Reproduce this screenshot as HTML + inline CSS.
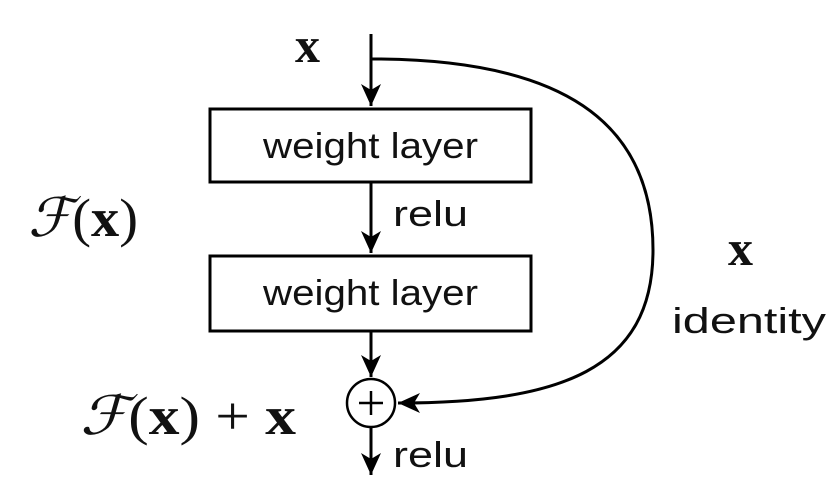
<!DOCTYPE html>
<html><head><meta charset="utf-8"><style>
html,body{margin:0;padding:0;background:#fff;}
svg{display:block}
.s{font-family:"Liberation Sans",sans-serif;font-size:36px;fill:#111}
.m{font-family:"Liberation Serif",serif;fill:#111}
</style></head><body>
<svg width="831" height="483" viewBox="0 0 831 483" xmlns="http://www.w3.org/2000/svg">
<defs>
<marker id="b" markerWidth="24" markerHeight="24" refX="22" refY="12" orient="auto" markerUnits="userSpaceOnUse"><path d="M0,2 L22,12 L0,22 L6,12 z" fill="#000"/></marker></defs>
<g stroke="#000" stroke-width="3" fill="none">
<line x1="371" y1="34" x2="371" y2="106" marker-end="url(#b)"/>
<line x1="371" y1="183" x2="371" y2="253" marker-end="url(#b)"/>
<line x1="371" y1="331" x2="371" y2="377" marker-end="url(#b)"/>
<line x1="371" y1="427" x2="371" y2="475" marker-end="url(#b)"/>
<rect x="210" y="109" width="321" height="73"/>
<rect x="210" y="256" width="321" height="75"/>
<circle cx="371" cy="403" r="24" stroke-width="2.5"/>
<line x1="359" y1="403" x2="383" y2="403" stroke-width="2.5"/>
<line x1="371" y1="391" x2="371" y2="415" stroke-width="2.5"/>
<path d="M372,59 C560,59 653,120 653,250 C653,370 560,403 398,403" marker-end="url(#b)"/>
</g>
<text class="s" x="263" y="158" textLength="215" lengthAdjust="spacingAndGlyphs">weight layer</text>
<text class="s" x="263" y="305" textLength="215" lengthAdjust="spacingAndGlyphs">weight layer</text>
<text class="s" x="393" y="226" textLength="75" lengthAdjust="spacingAndGlyphs">relu</text>
<text class="s" x="393" y="467" textLength="75" lengthAdjust="spacingAndGlyphs">relu</text>
<text class="s" x="672" y="333" textLength="154" lengthAdjust="spacingAndGlyphs">identity</text>
<text class="m" x="295" y="62" font-size="50" font-weight="bold">x</text>
<text class="m" x="728" y="265" font-size="50" font-weight="bold">x</text>
<text class="m" x="28" y="236" font-size="54" textLength="110" lengthAdjust="spacingAndGlyphs"><tspan font-style="italic">ℱ</tspan>(<tspan font-weight="bold">x</tspan>)</text>
<text class="m" x="80" y="434" font-size="54" textLength="216" lengthAdjust="spacingAndGlyphs"><tspan font-style="italic">ℱ</tspan>(<tspan font-weight="bold">x</tspan>) + <tspan font-weight="bold">x</tspan></text>
</svg>
</body></html>
